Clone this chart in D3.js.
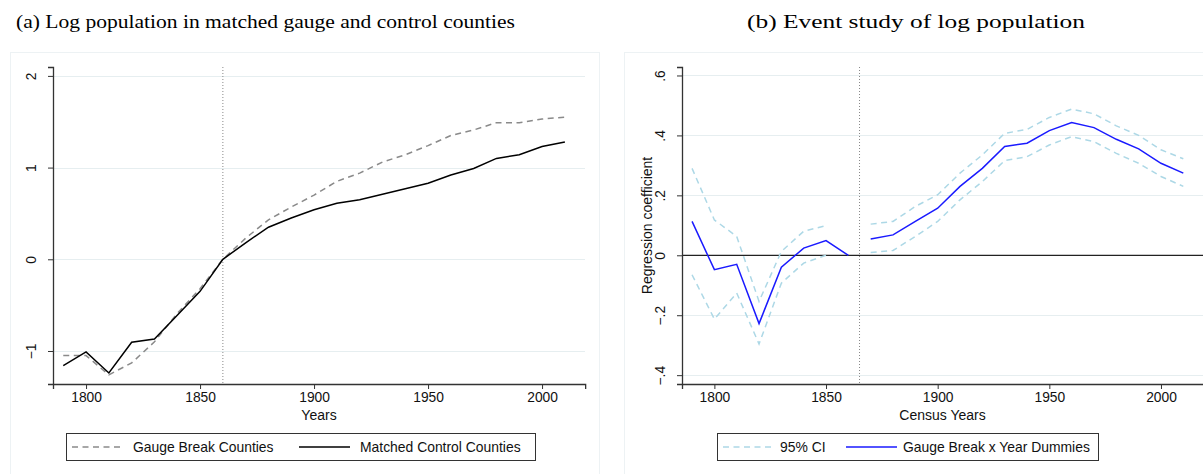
<!DOCTYPE html>
<html><head><meta charset="utf-8">
<script src="https://cdn.jsdelivr.net/npm/d3@7"></script>
<style>
body{margin:0;background:#fff;}
svg{display:block;}
</style></head>
<body>
<svg id="chart" width="1203" height="474"></svg>
<script>
// ---- Data ----
const years = [1790,1800,1810,1820,1830,1840,1850,1860,1870,1880,1890,1900,1910,1920,1930,1940,1950,1960,1970,1980,1990,2000,2010];
const gaugeBreak = [-1.05,-1.05,-1.26,-1.13,-0.90,-0.59,-0.32,0.00,0.23,0.43,0.57,0.70,0.85,0.94,1.06,1.14,1.24,1.35,1.41,1.49,1.49,1.53,1.55];
const matchedControl = [-1.16,-1.01,-1.24,-0.905,-0.87,-0.61,-0.35,0.00,0.18,0.35,0.45,0.54,0.61,0.65,0.71,0.77,0.83,0.92,0.99,1.10,1.14,1.23,1.28];

const esYears = [1790,1800,1810,1820,1830,1840,1850,1860,1870,1880,1890,1900,1910,1920,1930,1940,1950,1960,1970,1980,1990,2000,2010];
const coef = [0.113,-0.048,-0.030,-0.228,-0.040,0.024,0.049,0.000,0.054,0.068,0.113,0.157,0.230,0.290,0.363,0.374,0.416,0.443,0.426,0.387,0.355,0.307,0.274];
const ciUpper = [0.290,0.118,0.063,-0.154,0.013,0.080,0.099,null,0.104,0.113,0.163,0.202,0.274,0.335,0.407,0.420,0.460,0.488,0.472,0.432,0.400,0.352,0.322];
const ciLower = [-0.065,-0.213,-0.126,-0.296,-0.093,-0.026,0.000,null,0.009,0.016,0.063,0.113,0.185,0.246,0.316,0.329,0.368,0.396,0.379,0.340,0.307,0.263,0.230];

const xTicks = [1800,1850,1900,1950,2000];
const yTicksA = [-1,0,1,2];
const yTicksALabels = ["\u22121","0","1","2"];
const yTicksB = [-0.4,-0.2,0,0.2,0.4,0.6];
const yTicksBLabels = ["\u2212.4","\u2212.2","0",".2",".4",".6"];

const titleA = "(a) Log population in matched gauge and control counties";
const titleB = "(b) Event study of log population";
const legendA = ["Gauge Break Counties","Matched Control Counties"];
const legendB = ["95% CI","Gauge Break x Year Dummies"];
const eventLineA = 1860, eventLineB = 1865;

// ---- Drawing ----
const svg = d3.select("#chart");
const SANS = "'Liberation Sans', Arial, sans-serif";
const SERIF = "'Liberation Serif', 'Times New Roman', serif";
const GRID = "#e6eef0";

// panel borders
svg.append("rect").attr("x",10.5).attr("y",52.5).attr("width",589).attr("height",440)
  .attr("fill","none").attr("stroke","#edf2f4").attr("stroke-width",1);
svg.append("rect").attr("x",624.5).attr("y",52.5).attr("width",600).attr("height",440)
  .attr("fill","none").attr("stroke","#edf2f4").attr("stroke-width",1);

// titles
svg.append("text").attr("x",16).attr("y",28).attr("font-family",SERIF).attr("font-size",18.5)
  .attr("textLength",499).attr("lengthAdjust","spacingAndGlyphs").attr("fill","#000").text(titleA);
svg.append("text").attr("x",747).attr("y",28).attr("font-family",SERIF).attr("font-size",18.5)
  .attr("textLength",338).attr("lengthAdjust","spacingAndGlyphs").attr("fill","#000").text(titleB);

function panel(opt){
  const g = svg.append("g");
  const x = d3.scaleLinear().domain(opt.xDomain).range([opt.left, opt.right]);
  const y = d3.scaleLinear().domain(opt.yDomain).range([opt.bottom, opt.top]);
  // gridlines
  g.selectAll(".grid").data(opt.yTicks.filter(t=>!(opt.zeroLine && t===0))).enter().append("line")
    .attr("x1",opt.left).attr("x2",opt.gridRight)
    .attr("y1",d=>Math.round(y(d))+0.5).attr("y2",d=>Math.round(y(d))+0.5)
    .attr("stroke",GRID).attr("stroke-width",1.2);
  if(opt.zeroLine){
    g.append("line").attr("x1",opt.left).attr("x2",opt.gridRight)
      .attr("y1",y(0)).attr("y2",y(0)).attr("stroke","#222").attr("stroke-width",1.3);
  }
  // event line
  g.append("line").attr("x1",x(opt.eventLine)).attr("x2",x(opt.eventLine))
    .attr("y1",opt.top).attr("y2",opt.bottom)
    .attr("stroke","#888").attr("stroke-width",1).attr("stroke-dasharray","1,2");
  // axes
  const xa = g.append("g").attr("transform",`translate(0,${opt.bottom})`)
    .call(d3.axisBottom(x).tickValues(xTicks).tickFormat(d3.format("d")).tickSize(5).tickPadding(3));
  xa.select(".domain").attr("stroke","#333").attr("stroke-width",1.3);
  xa.selectAll(".tick line").attr("stroke","#333");
  xa.selectAll(".tick text").attr("font-family",SANS).attr("font-size",13.8).attr("fill","#111");
  const ya = g.append("g").attr("transform",`translate(${opt.left},0)`)
    .call(d3.axisLeft(y).tickValues(opt.yTicks).tickFormat((d,i)=>opt.yLabels[i]).tickSize(5).tickPadding(0));
  ya.select(".domain").attr("stroke","#333").attr("stroke-width",1.3);
  ya.selectAll(".tick line").attr("stroke","#333");
  ya.selectAll(".tick text").each(function(){
    d3.select(this).attr("font-family",SANS).attr("font-size",13.8).attr("fill","#111")
      .attr("text-anchor","middle").attr("x",0).attr("y",-13).attr("dx",0).attr("dy","0.0em")
      .attr("transform","translate(-4,0) rotate(-90)");
  });
  // axis titles
  g.append("text").attr("x",(opt.left+opt.gridRight)/2).attr("y",420).attr("text-anchor","middle")
    .attr("font-family",SANS).attr("font-size",14).attr("fill","#111").text(opt.xTitle);
  if(opt.yTitle){
    g.append("text").attr("transform",`translate(${opt.yTitleX},${(opt.top+opt.bottom)/2}) rotate(-90)`)
      .attr("text-anchor","middle").attr("font-family",SANS).attr("font-size",14).attr("fill","#111").text(opt.yTitle);
  }
  return {g,x,y};
}

// Panel A
const A = panel({left:53,right:53+(2018.9-1785.5)*2.28,gridRight:585,top:67,bottom:384,
  xDomain:[1785.5,2018.9],yDomain:[-1.36,2.097],yTicks:yTicksA,yLabels:yTicksALabels,
  eventLine:eventLineA,xTitle:"Years"});
const lineA = d3.line().x((d,i)=>A.x(years[i])).y(d=>A.y(d));
A.g.append("path").datum(gaugeBreak).attr("d",lineA).attr("fill","none")
  .attr("stroke","#8a8a8a").attr("stroke-width",1.5).attr("stroke-dasharray","6,4.5");
A.g.append("path").datum(matchedControl).attr("d",lineA).attr("fill","none")
  .attr("stroke","#000").attr("stroke-width",1.5);

// Panel B
const B = panel({left:682,right:682+(2018.9-1785.5)*2.233,gridRight:1203,top:67,bottom:384,
  xDomain:[1785.5,2018.9],yDomain:[-0.4295,0.6283],yTicks:yTicksB,yLabels:yTicksBLabels,
  eventLine:eventLineB,xTitle:"Census Years",yTitle:"Regression coefficient",yTitleX:652,zeroLine:true});
const lineB = d3.line().defined(d=>d!==null).x((d,i)=>B.x(esYears[i])).y(d=>B.y(d));
[ciUpper,ciLower].forEach(arr=>{
  B.g.append("path").datum(arr).attr("d",lineB).attr("fill","none")
    .attr("stroke","#add8e6").attr("stroke-width",1.5).attr("stroke-dasharray","6,4.5");
});
// coefficient line: gap between 1860 and 1870
const coefPre = coef.map((v,i)=>esYears[i]<=1860?v:null);
const coefPost = coef.map((v,i)=>esYears[i]>=1870?v:null);
[coefPre,coefPost].forEach(arr=>{
  B.g.append("path").datum(arr).attr("d",lineB).attr("fill","none")
    .attr("stroke","#1a1aff").attr("stroke-width",1.5);
});

// Legends
function legend(x0,x1,items){
  const g = svg.append("g");
  g.append("rect").attr("x",x0+0.5).attr("y",433.5).attr("width",x1-x0).attr("height",27)
    .attr("fill","#fff").attr("stroke","#333").attr("stroke-width",1);
  items.forEach(it=>{
    g.append("line").attr("x1",it.lx).attr("x2",it.lx+51).attr("y1",447).attr("y2",447)
      .attr("stroke",it.color).attr("stroke-width",1.5).attr("stroke-dasharray",it.dash||null);
    g.append("text").attr("x",it.tx).attr("y",452).attr("font-family",SANS).attr("font-size",13.9)
      .attr("fill","#111").text(it.label);
  });
}
legend(66,535,[
  {lx:72,tx:133,color:"#8a8a8a",dash:"6,4.5",label:legendA[0]},
  {lx:299,tx:360,color:"#000",label:legendA[1]}
]);
legend(717,1098,[
  {lx:723,tx:780,color:"#add8e6",dash:"6,4.5",label:legendB[0]},
  {lx:846,tx:903,color:"#1a1aff",label:legendB[1]}
]);
</script>
</body></html>
